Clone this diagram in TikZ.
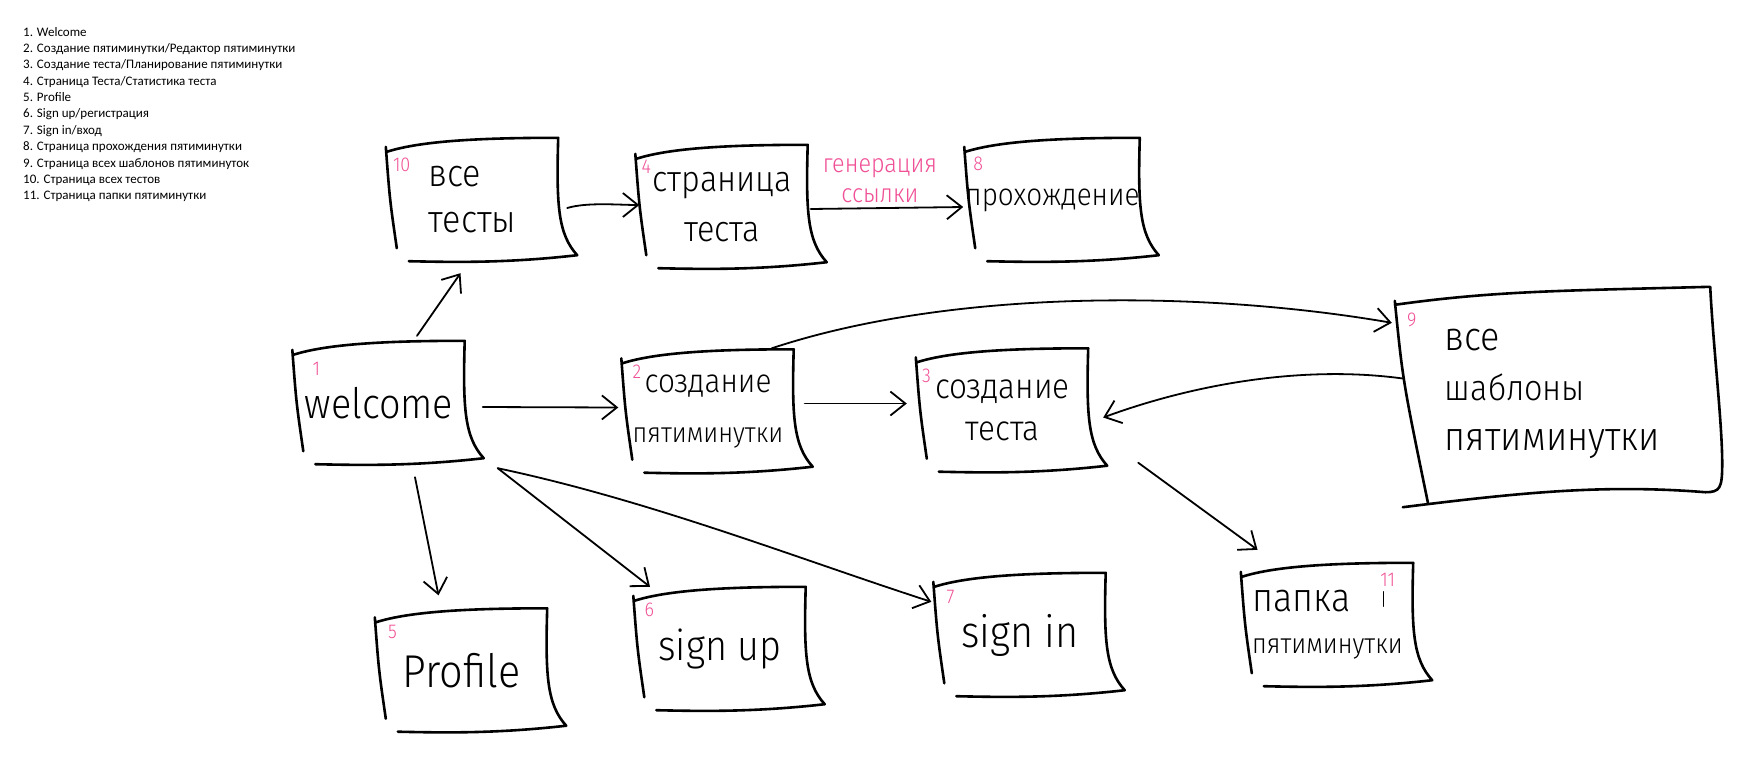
\documentclass[tikz,border=0pt]{standalone}
\usepackage{fontspec}
\setmainfont{Carlito}
\newfontfamily\hand{Fira Sans Light}[FakeStretch=0.9]
\usetikzlibrary{calc,arrows.meta}

\definecolor{marker}{RGB}{240,80,150}

\newcommand\hf[2]{\hand\fontsize{#1}{#2}\selectfont}
% hand drawn sheet round a box node
\newcommand\sheetoutline[1]{%
	\draw[sheetline] let \p1=(#1.north west), \p2=(#1.south east),
			\n1={\x2-\x1}, \n2={\y1-\y2} in
		(\x1,\y1-14pt) .. controls (\x1+0.2*\n1,\y1-3pt) and (\x2-0.45*\n1,\y1) .. (\x2,\y1)
		.. controls (\x2-2pt,\y1-0.55*\n2) and (\x2,\y2+28pt) .. (\x2+19pt,\y2+7pt)
		.. controls (\x2-0.3*\n1,\y2-1pt) and (\x1+0.4*\n1,\y2) .. (\x1+22pt,\y2+1pt)
		(\x1-1pt,\y1-9pt) .. controls (\x1+3pt,\y1-0.5*\n2) .. (\x1+10pt,\y2+14pt);
}

\begin{document}
\begin{tikzpicture}[x=1pt, y=-1pt, line cap=round, line join=round,
		sheet/.style={minimum width=171pt, minimum height=124pt, inner sep=0pt, align=center},
		sheetline/.style={line width=2.6pt},
		conn/.style={line width=1.8pt, -{Straight Barb[length=15pt,width=24pt]}},
		num/.style={text=marker, font=\hf{20}{20}, inner sep=0pt, anchor=north west},
		linklbl/.style={text=marker, font=\hf{26}{30}, align=center, inner sep=0pt}]
	\useasboundingbox (0,0) rectangle (1747,780);

	\node[anchor=north west, inner sep=0pt, align=left, font=\fontsize{13}{16.35}\selectfont] (legend) at (23,27) {%
		1. Welcome\\
		2. Создание пятиминутки/Редактор пятиминутки\\
		3. Создание теста/Планирование пятиминутки\\
		4. Страница Теста/Статистика теста\\
		5. Profile\\
		6. Sign up/регистрация\\
		7. Sign in/вход\\
		8. Страница прохождения пятиминутки\\
		9. Страница всех шаблонов пятиминуток\\
		10. Страница всех тестов\\
		11. Страница папки пятиминутки};

	\node[sheet, align=left, font=\hf{38}{46}] (vsetesty) at (472.5,200) {все\\тесты};
	\node[sheet, font=\hf{36}{50}] (strtesta) at (722,207) {страница\\теста};
	\node[sheet, font=\hf{31}{35}] (prohozhdenie) at (1052.5,200) {прохождение};
	\node[sheet, font=\hf{42}{48}] (welcome) at (379,403) {welcome};
	\node[sheet, font=\hf{33}{50}] (sozdpyat) at (708,411.5) {создание\\{\fontsize{28}{34}\selectfont пятиминутки}};
	\node[sheet, font=\hf{35}{42}] (sozdtesta) at (1002.5,410.5) {создание\\теста};
	\node[sheet, minimum width=315pt, minimum height=213pt, align=left, font=\hf{40}{50}] (vseshabl) at (1552.5,393.5) {все\\{\fontsize{36}{40}\selectfont шаблоны}\\пятиминутки};
	\node[sheet, font=\hf{46}{50}] (profile) at (461.5,670.5) {Profile};
	\node[sheet, font=\hf{42}{48}] (signup) at (720,649) {sign up};
	\node[sheet, font=\hf{44}{48}] (signin) at (1020,635) {sign in};
	\node[sheet, align=left, font=\hf{40}{42}] (papka) at (1327.5,625) {папка\\{\fontsize{28}{34}\selectfont пятиминутки}};

	\foreach \b in {vsetesty, strtesta, prohozhdenie, welcome, sozdpyat, sozdtesta, profile, signup, signin, papka} {
		\sheetoutline{\b}
	}
	\draw[sheetline] ($(vseshabl.north west)+(0,18)$) .. controls +(100,-14) and +(-150,4) .. (vseshabl.north east)
		.. controls +(3,60) and +(0,-40) .. ($(vseshabl.south east)+(12,-37)$)
		.. controls +(0,25) and +(15,0) .. ($(vseshabl.south east)+(-5,-8)$)
		.. controls +(-100,-8) and +(120,-15) .. ($(vseshabl.south west)+(8,7)$)
		($(vseshabl.north west)+(0,14)$) .. controls +(8,80) .. ($(vseshabl.south west)+(33,2)$);

	\foreach \b/\k/\dx/\dy in {vsetesty/10/6/20, strtesta/4/5/15, prohozhdenie/8/8/19, welcome/1/19/21,
			sozdpyat/2/10/15, sozdtesta/3/5/20, profile/5/12/17, signup/6/10/16, signin/7/12/17, vseshabl/9/12/26} {
		\node[num] (num\k) at ($(\b.north west)+(\dx,\dy)$) {\k};
	}
	\node[num] (num11) at ($(papka.north east)+(-33,10)$) {11};
	\draw[line width=0.8pt] ($(num11.south)+(-4,5)$) -- +(0,15);

	\draw[conn] ($(welcome.north)+(38,-5)$) -- ($(vsetesty.south)+(-12,11)$);
	\draw[conn] ($(vsetesty.east)+(9,8)$) .. controls +(20,-6) and +(-20,0) .. ($(strtesta.west)+(3,-2)$);
	\draw[conn] ($(strtesta.east)+(3,2)$) -- node[linklbl, above=4pt, xshift=-7pt] (linklabel) {генерация\\ссылки} ($(prohozhdenie.west)+(-2,7)$);
	\draw[conn] ($(welcome.east)+(18,4)$) -- ($(sozdpyat.west)+(-4,-4)$);
	\draw[conn] ($(sozdpyat.east)+(11,-8)$) -- ($(sozdtesta.west)+(-10,-7)$);
	\draw[conn] ($(sozdpyat.north east)+(-22,-1)$) .. controls +(178,-59) and +(-192,-33) .. ($(vseshabl.north west)+(-3,36)$);
	\draw[conn] ($(vseshabl.west)+(8,-15)$) .. controls +(-103,-14) and +(87,-32) .. ($(sozdtesta.east)+(15,7)$);
	\draw[conn] ($(sozdtesta.south east)+(50,-10)$) -- ($(papka.north)+(-70,-13)$);
	\draw[conn] ($(welcome.south)+(36,12)$) -- ($(profile.north)+(-23,-13)$);
	\coordinate (fork) at ($(welcome.south east)+(33,3)$);
	\draw[conn] (fork) -- ($(signup.north)+(-70,0)$);
	\draw[conn] (fork) .. controls +(152,32) and +(-130,-42) .. ($(signin.north west)+(-3,29)$);
\end{tikzpicture}
\end{document}
